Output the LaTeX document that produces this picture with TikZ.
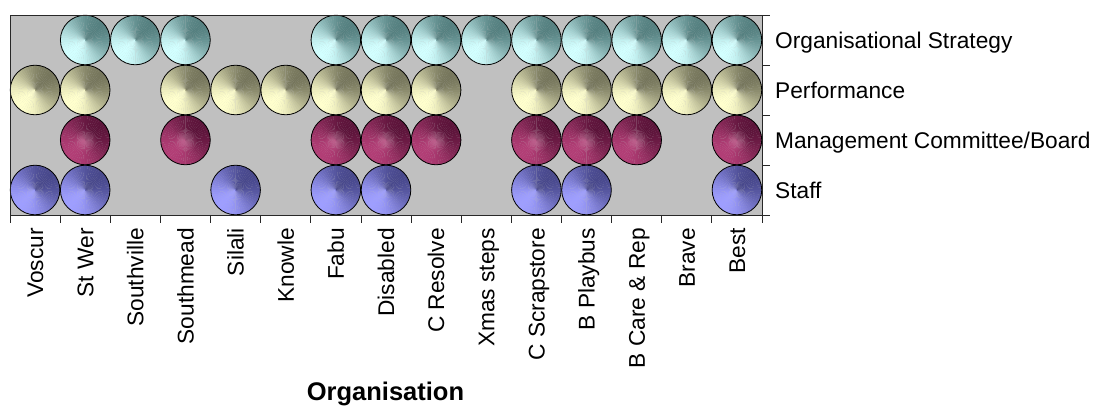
\documentclass[tikz,border=0pt]{standalone}
\usepackage{fontspec}
\setmainfont{Liberation Sans}
\usetikzlibrary{fadings}
\tikzfading[name=glowfade, inner color=transparent!0, outer color=transparent!100]
\definecolor{plotgray}{RGB}{192,192,192}
\definecolor{cyanD}{RGB}{85,128,128}
\definecolor{cyanL}{RGB}{210,255,255}
\definecolor{yelD}{RGB}{118,118,92}
\definecolor{yelL}{RGB}{255,255,205}
\definecolor{marD}{RGB}{92,20,58}
\definecolor{marL}{RGB}{178,62,118}
\definecolor{bluD}{RGB}{72,72,140}
\definecolor{bluL}{RGB}{158,158,255}
\definecolor{axisgray}{RGB}{40,40,40}
\newcommand\drawbubble[4]{%
  \pgfmathsetmacro\bx{10+(#1-0.5)*752/15}
  \foreach \a in {0,6,...,354}{
    \pgfmathtruncatemacro\t{50+50*cos(\a+3-45)}
    \fill[#3!\t!#4] (\bx,#2) -- ++(\a:24.8) arc[start angle=\a, end angle=\a+6.4, radius=24.8] -- cycle;
  }
  \draw[line width=0.8pt] (\bx,#2) circle[radius=24.8];
}
\newcommand\centreglow[3]{%
  \pgfmathsetmacro\bx{10+(#1-0.5)*752/15}
  \fill[#3, path fading=glowfade, fill opacity=0.55] (\bx,#2) circle[radius=12];
}
\tikzset{
  lab/.style={font=\fontsize{22.7}{27}\selectfont, inner sep=0pt},
  ttl/.style={font=\fontsize{25.5}{30}\selectfont\bfseries, inner sep=0pt},
  tick/.style={draw=axisgray, line width=0.8pt}
}
\begin{document}
\begin{tikzpicture}[x=1pt,y=1pt]
\useasboundingbox (0,0) rectangle (1099,406);
% plot area
\fill[plotgray] (10,191) rectangle (762,391);
% bubbles
\foreach \c in {2,3,4,7,8,9,10,11,12,13,14,15} {\drawbubble{\c}{366}{cyanD}{cyanL}}
\foreach \c in {1,2,4,5,6,7,8,9,11,12,13,14,15} {\drawbubble{\c}{316}{yelD}{yelL}}
\foreach \c in {2,4,7,8,9,11,12,13,15} {\drawbubble{\c}{266}{marD}{marL}\centreglow{\c}{266}{marL!70!white}}
\foreach \c in {1,2,5,7,8,11,12,15} {\drawbubble{\c}{216}{bluD}{bluL}}
% frame and ticks
\draw[tick] (10,191) rectangle (762,391);
\foreach \y in {191,241,291,341,391} {\draw[tick] (762,\y) -- (770,\y);}
\foreach \k in {0,...,15} {\draw[tick] ({10+\k*752/15},191) -- ({10+\k*752/15},183);}
% category labels
\foreach \lab [count=\i] in {Voscur,St Wer,Southville,Southmead,Silali,Knowle,Fabu,Disabled,C Resolve,Xmas steps,C Scrapstore,B Playbus,B Care \& Rep,Brave,Best}
  {\node[lab, rotate=90, anchor=base east] (org\i) at ({10+(\i-0.5)*752/15+8.1},178) {\lab};}
% series labels
\node[lab, anchor=base west] (sOS) at (775,357.9) {Organisational Strategy};
\node[lab, anchor=base west] (sPerf) at (775,307.9) {Performance};
\node[lab, anchor=base west] (sMgmt) at (775,257.9) {Management Committee/Board};
\node[lab, anchor=base west] (sStaff) at (775,207.9) {Staff};
% axis title
\node[ttl, anchor=base] (title) at (385.5,5) {Organisation};
\end{tikzpicture}
\end{document}
